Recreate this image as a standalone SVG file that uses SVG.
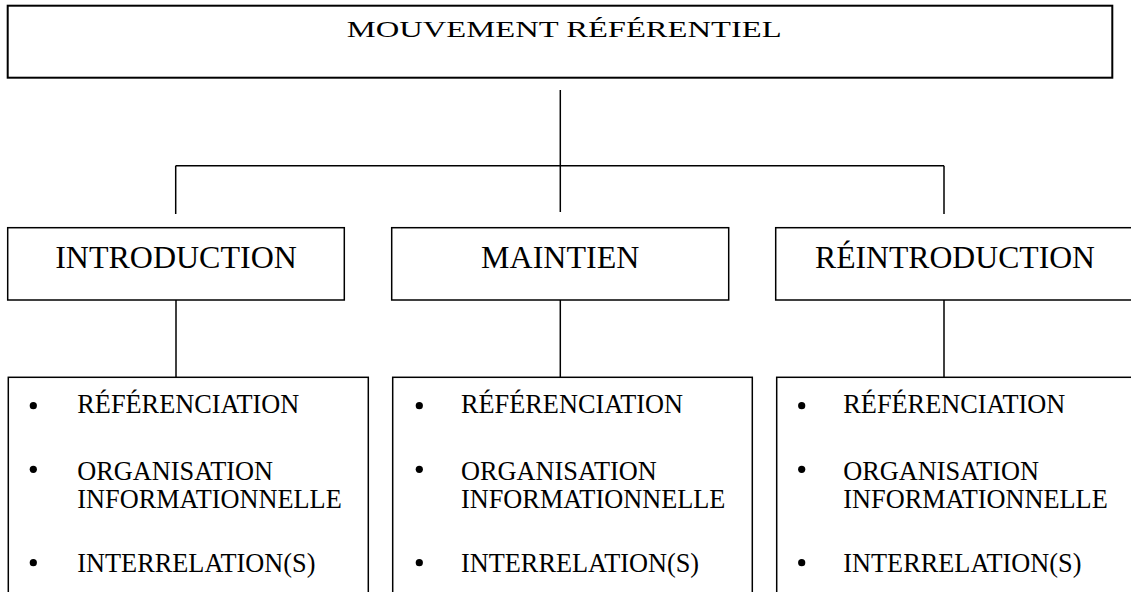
<svg xmlns="http://www.w3.org/2000/svg" width="1131" height="592" viewBox="0 0 1131 592">
<style>
.box{fill:#fff;stroke:#000;stroke-width:1.5}
.top{stroke-width:2}
.conn line{stroke:#000;stroke-width:1.5}
.t{font-family:"Liberation Serif","Times New Roman",serif;fill:#000}
.h{font-size:32px;text-anchor:middle}
.b{font-size:26.3px}
</style>
<rect width="1131" height="592" fill="#fff"/>
<g id="connectors" class="conn">
<line x1="560.3" y1="90" x2="560.3" y2="212"/>
<line x1="175.7" y1="165.7" x2="944" y2="165.7"/>
<line x1="175.7" y1="165.7" x2="175.7" y2="214"/>
<line x1="944" y1="165.7" x2="944" y2="214"/>
<line x1="176" y1="300" x2="176" y2="377.3"/>
<line x1="560.3" y1="300" x2="560.3" y2="377.3"/>
<line x1="944" y1="300" x2="944" y2="377.3"/>
</g>
<g id="mouvement">
<rect class="box top" x="7.7" y="5.7" width="1104.6" height="72"/>
<text class="t" x="346.7" y="37.3" font-size="23" textLength="435" lengthAdjust="spacingAndGlyphs">MOUVEMENT RÉFÉRENTIEL</text>
</g>
<g id="introduction">
<rect class="box" x="7.7" y="227.7" width="336.6" height="72.3"/>
<text class="t h" x="176" y="267.7">INTRODUCTION</text>
</g>
<g id="maintien">
<rect class="box" x="391.7" y="227.7" width="337" height="72.3"/>
<text class="t h" x="560.2" y="267.7">MAINTIEN</text>
</g>
<g id="reintroduction">
<rect class="box" x="775.7" y="227.7" width="370" height="72.3"/>
<text class="t h" x="955" y="267.7" textLength="280" lengthAdjust="spacingAndGlyphs">RÉINTRODUCTION</text>
</g>
<g id="liste-introduction">
<rect class="box" x="8.3" y="377.3" width="360" height="230"/>
<circle cx="33.3" cy="405.7" r="3.6"/>
<circle cx="33.3" cy="469.3" r="3.6"/>
<circle cx="33.3" cy="562.7" r="3.6"/>
<text class="t b" x="77.3" y="413.3">RÉFÉRENCIATION</text>
<text class="t b" x="77.3" y="479.5">ORGANISATION</text>
<text class="t b" x="77.3" y="508.3">INFORMATIONNELLE</text>
<text class="t b" x="77.3" y="572">INTERRELATION(S)</text>
</g>
<g id="liste-maintien">
<rect class="box" x="392.7" y="377.3" width="359.6" height="230"/>
<circle cx="419.3" cy="405.7" r="3.6"/>
<circle cx="419.3" cy="469.3" r="3.6"/>
<circle cx="419.3" cy="562.7" r="3.6"/>
<text class="t b" x="461" y="413.3">RÉFÉRENCIATION</text>
<text class="t b" x="461" y="479.5">ORGANISATION</text>
<text class="t b" x="461" y="508.3">INFORMATIONNELLE</text>
<text class="t b" x="461" y="572">INTERRELATION(S)</text>
</g>
<g id="liste-reintroduction">
<rect class="box" x="776.7" y="377.3" width="370" height="230"/>
<circle cx="801.7" cy="405.7" r="3.6"/>
<circle cx="801.7" cy="469.3" r="3.6"/>
<circle cx="801.7" cy="562.7" r="3.6"/>
<text class="t b" x="843.3" y="413.3">RÉFÉRENCIATION</text>
<text class="t b" x="843.3" y="479.5">ORGANISATION</text>
<text class="t b" x="843.3" y="508.3">INFORMATIONNELLE</text>
<text class="t b" x="843.3" y="572">INTERRELATION(S)</text>
</g>
</svg>
